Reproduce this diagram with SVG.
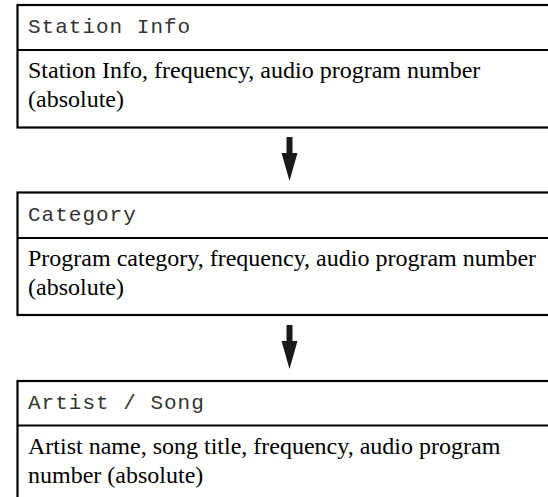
<svg xmlns="http://www.w3.org/2000/svg" width="548" height="497" viewBox="0 0 548 497">
<style>
.box{fill:#fff;stroke:#000;stroke-width:2.2}
.div{stroke:#000;stroke-width:2.2}
.hdr{font-family:"Liberation Mono","DejaVu Sans Mono",monospace;font-size:21px;letter-spacing:1px;fill:#333}
.body{font-family:"Liberation Serif","Times New Roman",serif;font-size:24px;fill:#000}
.arrow{fill:#1a1a1a}
</style>
<g id="node-station">
<rect class="box" x="17.5" y="5" width="560" height="122.5"/>
<line class="div" x1="17.5" y1="50" x2="560" y2="50"/>
<text class="hdr" x="28" y="33">Station Info</text>
<text class="body" x="28" y="78">Station Info, frequency, audio program number</text>
<text class="body" x="28" y="107">(absolute)</text>
</g>
<g id="node-category">
<rect class="box" x="17.5" y="192.5" width="560" height="122.5"/>
<line class="div" x1="17.5" y1="238" x2="560" y2="238"/>
<text class="hdr" x="28" y="221">Category</text>
<text class="body" x="28" y="266">Program category, frequency, audio program number</text>
<text class="body" x="28" y="295">(absolute)</text>
</g>
<g id="node-artist">
<rect class="box" x="17.5" y="381" width="560" height="140"/>
<line class="div" x1="17.5" y1="425.5" x2="560" y2="425.5"/>
<text class="hdr" x="28" y="409">Artist / Song</text>
<text class="body" x="28" y="454">Artist name, song title, frequency, audio program</text>
<text class="body" x="28" y="483">number (absolute)</text>
</g>
<g id="connectors">
<path class="arrow" d="M286.5 137 H292.5 V153 H297.5 L289.5 181 L281.5 153 H286.5 Z"/>
<path class="arrow" d="M286.5 325 H292.5 V341 H297.5 L289.5 369 L281.5 341 H286.5 Z"/>
</g>
</svg>
